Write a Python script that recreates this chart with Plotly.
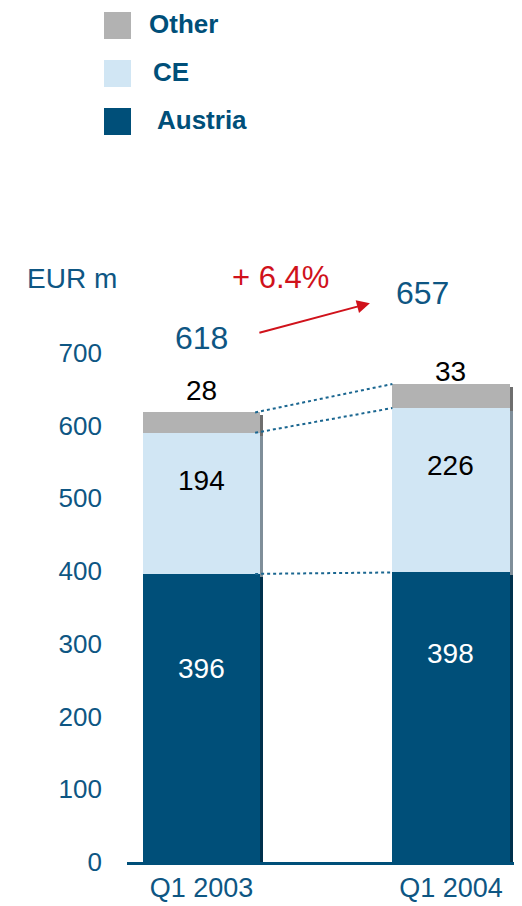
import numpy as np
import plotly.graph_objects as go

# data
quarters = ["Q1 2003", "Q1 2004"]
austria = [396, 398]
ce = [194, 226]
other = [28, 33]
totals = [618, 657]
growth_label = "+ 6.4%"

# where the value labels sit inside each segment (fraction of segment height)
austria_lbl = [0.67, 0.72]
ce_lbl = [0.66, 0.65]

# the page has an 8px body margin, so the figure is made 8px smaller
OFF = 8
W, H = 522 - OFF, 906 - OFF
L, B = 127 - OFF, 44
plot_w = W - L
plot_h = H - B
xr = [-0.2986, 1.2846]
yr = [0, plot_h / 0.7275]

def px_x(p):
    return (p - OFF - L) / plot_w

def px_y(p):
    return (H - B + OFF - p) / plot_h

blue = "#0e5683"
dark = "#004f79"
red = "#d0121b"
font = "Liberation Sans, Arial, sans-serif"
bw = 0.47

x = np.array([0, 1])
base_ce = np.array(austria)
base_other = base_ce + np.array(ce)
tops = base_other + np.array(other)

fig = go.Figure()

series = [
    ("Austria", austria, np.zeros(2), dark, "#00314d"),
    ("CE", ce, base_ce, "#d1e6f4", "#7f8e99"),
    ("Other", other, base_other, "#b2b2b2", "#6e6e6e"),
]

# shadows
for name, vals, base, col, shcol in series:
    fig.add_trace(go.Bar(x=x + 0.012, y=vals, base=base - 4, width=bw,
                         marker=dict(color=shcol, line=dict(width=0)),
                         showlegend=False, hoverinfo="skip"))
for name, vals, base, col, shcol in series:
    fig.add_trace(go.Bar(x=x, y=vals, base=base, width=bw, name=name,
                         marker=dict(color=col, line=dict(width=0)),
                         showlegend=False))

# dotted connectors between the bars
for a, b in [(austria[0], austria[1]), (base_other[0], base_other[1]), (tops[0], tops[1])]:
    fig.add_trace(go.Scatter(x=[bw / 2 - 0.02, 1 - bw / 2], y=[a, b], mode="lines",
                             line=dict(color="#1a6690", width=2, dash="dot"),
                             showlegend=False, hoverinfo="skip"))

ann = []
for i in range(2):
    ann.append(dict(x=x[i], y=austria[i] * austria_lbl[i], text=str(austria[i]),
                    font=dict(color="white", size=28, family=font), showarrow=False))
    ann.append(dict(x=x[i], y=base_ce[i] + ce[i] * ce_lbl[i], text=str(ce[i]),
                    font=dict(color="black", size=28, family=font), showarrow=False))
ann.append(dict(x=x[0], y=tops[0], yshift=22, text=str(other[0]),
                font=dict(color="black", size=28, family=font), showarrow=False))
ann.append(dict(x=x[1], y=tops[1], yshift=13, text=str(other[1]),
                font=dict(color="black", size=28, family=font), showarrow=False))

# totals and growth arrow
ann.append(dict(x=x[0], y=tops[0] + 102, text=str(totals[0]),
                font=dict(color=blue, size=32, family=font), showarrow=False))
ann.append(dict(x=0.884, y=tops[1] + 125, text=str(totals[1]),
                font=dict(color=blue, size=32, family=font), showarrow=False))
ann.append(dict(x=0.315, y=803, text=growth_label,
                font=dict(color=red, size=31, family=font), showarrow=False))
ann.append(dict(x=0.675, y=768, ax=0.226, ay=727, axref="x", ayref="y",
                xref="x", yref="y", text="", showarrow=True,
                arrowhead=2, arrowsize=1.3, arrowwidth=2, arrowcolor=red))
ann.append(dict(x=px_x(25), y=px_y(278), xref="paper", yref="paper",
                xanchor="left", yanchor="middle",
                text="EUR m", font=dict(color=blue, size=28, family=font), showarrow=False))

# legend
shapes = []
leg = [("Other", "#b2b2b2", 12, 147), ("CE", "#d1e6f4", 60, 151), ("Austria", dark, 108, 155)]
for name, col, top, tx in leg:
    shapes.append(dict(type="rect", xref="paper", yref="paper",
                       x0=px_x(104), x1=px_x(131), y0=px_y(top + 27), y1=px_y(top),
                       fillcolor=col, line=dict(width=0)))
    ann.append(dict(x=px_x(tx), y=px_y(top + 12), xref="paper", yref="paper",
                    xanchor="left", yanchor="middle", text="<b>%s</b>" % name,
                    font=dict(color=dark, size=26, family=font), showarrow=False))

fig.update_layout(
    width=W, height=H, template="none",
    margin=dict(l=L, r=0, t=0, b=B),
    barmode="overlay", bargap=0,
    plot_bgcolor="white", paper_bgcolor="white",
    annotations=ann, shapes=shapes,
    xaxis=dict(range=xr, tickvals=[0, 1], ticktext=quarters, showgrid=False,
               zeroline=False, showline=True, linecolor=dark, linewidth=3,
               ticks="", automargin=False, ticklabelstandoff=0,
               tickfont=dict(color=blue, size=27, family=font)),
    yaxis=dict(range=yr, tickvals=list(range(0, 800, 100)), showgrid=False,
               zeroline=False, showline=False, ticks="", automargin=False,
               ticklabelstandoff=24,
               tickfont=dict(color=blue, size=26, family=font)),
)

fig.write_html("out.html")
